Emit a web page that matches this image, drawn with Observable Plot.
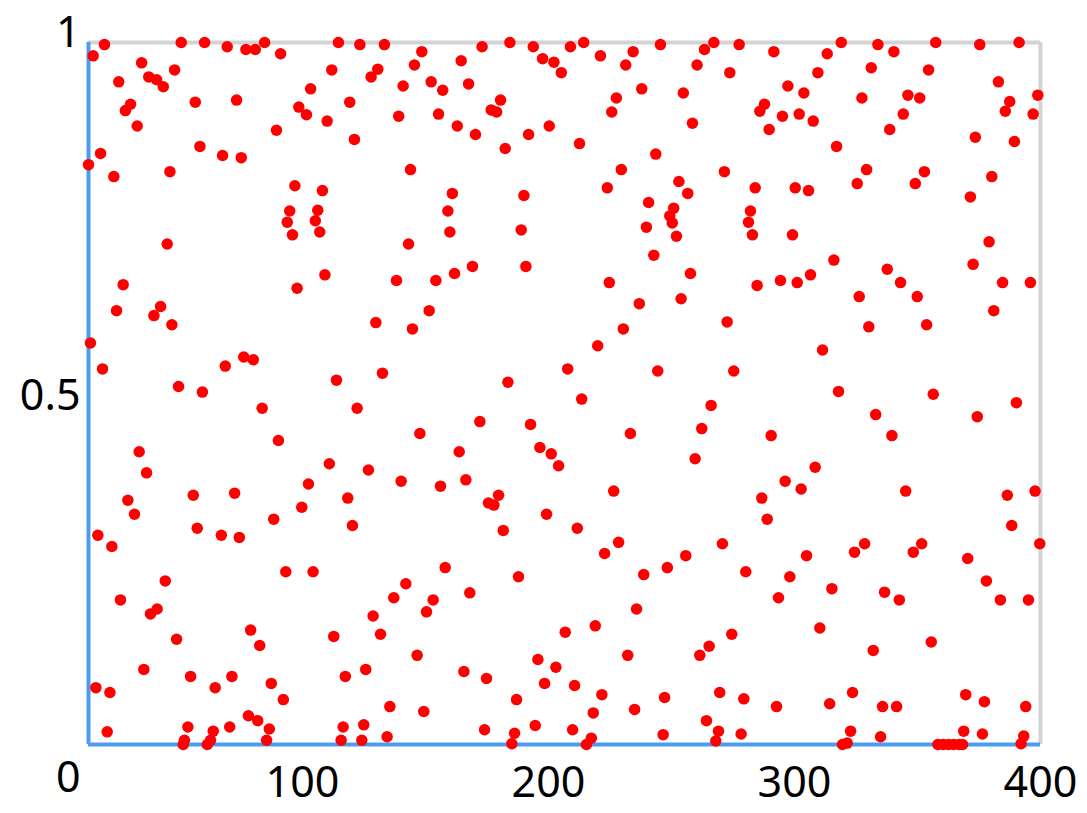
<!DOCTYPE html>
<html><head><meta charset="utf-8">
<script src="https://cdn.jsdelivr.net/npm/d3@7"></script>
<script src="https://cdn.jsdelivr.net/npm/@observablehq/plot@0.6"></script>
<style>html,body{margin:0;padding:0;background:#fff;} #chart svg{display:block;}</style>
</head><body><div id="chart"></div>
<script>
const xTicks = [100, 200, 300, 400];
const yTicks = [0, 0.5, 1];
const yTickLabels = ["0", "0.5", "1"];
const xStart = 13, xEnd = 400;
// [x, y] samples
const points = [
[19.5,0.997],[14.9,0.981],[50.7,1.000],[60.2,1.000],[69.4,0.994],[77.0,0.990],[80.8,0.990],[84.6,1.000],[91.1,0.984],[114.6,1.000],[123.3,0.997],[133.3,0.997],[34.6,0.971],[48.0,0.961],[25.3,0.944],[37.5,0.951],[40.7,0.947],[43.4,0.937],[111.9,0.961],[130.6,0.962],[127.9,0.951],[140.9,0.938],[103.3,0.934],[30.1,0.912],[28.0,0.903],[56.4,0.915],[73.2,0.918],[98.5,0.908],[101.6,0.897],[119.2,0.915],[110.0,0.888],[139.1,0.895],[32.8,0.881],[89.4,0.875],[121.1,0.862],[17.9,0.842],[13.0,0.826],[58.3,0.852],[67.5,0.839],[75.1,0.836],[23.3,0.809],[46.1,0.816],[96.9,0.796],[108.1,0.789],[94.8,0.760],[93.8,0.744],[95.9,0.726],[106.2,0.761],[105.2,0.746],[107.0,0.730],[45.0,0.713],
[148.5,0.987],[145.5,0.968],[173.0,0.994],[184.3,1.000],[193.8,0.994],[197.6,0.977],[202.2,0.972],[205.2,0.957],[208.9,0.994],[214.3,1.000],[221.1,0.981],[234.4,0.987],[231.4,0.968],[245.5,0.997],[263.4,0.990],[267.2,1.000],[260.4,0.968],[164.5,0.974],[152.3,0.944],[157.0,0.932],[167.5,0.941],[180.5,0.918],[176.7,0.904],[178.9,0.901],[155.3,0.898],[162.9,0.881],[170.3,0.869],[191.9,0.869],[200.3,0.881],[182.4,0.849],[212.6,0.856],[227.6,0.921],[225.7,0.901],[237.9,0.934],[254.8,0.928],[258.5,0.885],[243.6,0.841],[143.9,0.819],[229.6,0.819],[271.5,0.816],[223.9,0.793],[253.0,0.802],[256.6,0.785],[160.9,0.785],[190.0,0.782],[240.7,0.772],[250.9,0.764],[249.3,0.753],[250.3,0.743],[239.8,0.737],[252.0,0.724],[159.1,0.760],[159.9,0.730],[188.9,0.733],[143.1,0.713],[242.8,0.697],[169.1,0.681],[190.8,0.681],
[277.5,0.997],[291.6,0.987],[273.7,0.957],[313.3,0.984],[319.0,1.000],[333.9,0.997],[340.4,0.987],[357.4,1.000],[375.3,0.997],[391.3,1.000],[309.5,0.957],[331.2,0.964],[354.5,0.961],[297.3,0.938],[303.8,0.928],[287.8,0.912],[285.9,0.902],[295.1,0.895],[301.9,0.898],[307.6,0.888],[289.7,0.876],[327.4,0.921],[346.1,0.925],[350.9,0.921],[344.2,0.898],[338.7,0.876],[317.1,0.852],[382.9,0.944],[398.9,0.925],[387.5,0.916],[385.7,0.902],[397.0,0.898],[373.5,0.865],[389.4,0.859],[329.3,0.819],[325.5,0.799],[352.8,0.816],[349.1,0.799],[380.2,0.809],[371.5,0.780],[284.0,0.793],[300.3,0.793],[305.7,0.789],[282.1,0.760],[281.3,0.744],[282.9,0.726],[299.2,0.726],[379.1,0.716],[316.0,0.690],[337.7,0.677],[372.6,0.684],
[27.1,0.655],[24.4,0.618],[42.3,0.624],[39.6,0.611],[46.9,0.598],[13.8,0.572],[18.7,0.535],[97.8,0.650],[109.1,0.669],[138.2,0.661],[129.8,0.601],[68.6,0.539],[76.1,0.552],[80.0,0.548],[49.6,0.510],[59.3,0.502],[113.8,0.519],[132.5,0.529],[83.6,0.479],[122.2,0.479],[90.2,0.433],[33.6,0.417],[36.6,0.387],[110.9,0.400],[126.8,0.391],[140.1,0.375],[102.4,0.371],[29.0,0.348],[55.6,0.355],[72.4,0.358],[118.4,0.351],
[154.2,0.661],[161.8,0.671],[151.5,0.618],[144.7,0.592],[224.7,0.658],[257.7,0.671],[236.9,0.628],[253.9,0.635],[230.4,0.592],[220.0,0.568],[207.8,0.535],[244.4,0.532],[183.5,0.516],[213.5,0.492],[266.1,0.483],[262.3,0.450],[259.6,0.407],[233.3,0.443],[172.1,0.460],[192.7,0.456],[147.7,0.443],[163.7,0.417],[196.5,0.423],[201.1,0.414],[204.1,0.397],[156.1,0.368],[166.4,0.377],[179.7,0.355],[175.6,0.344],[177.8,0.341],[226.5,0.361],
[284.8,0.654],[294.3,0.661],[301.1,0.658],[306.5,0.669],[343.1,0.658],[349.9,0.638],[326.3,0.638],[384.6,0.658],[395.9,0.658],[381.0,0.618],[272.6,0.602],[330.2,0.595],[353.7,0.598],[311.4,0.562],[275.3,0.532],[317.9,0.503],[356.4,0.499],[333.0,0.470],[390.2,0.487],[374.3,0.467],[290.5,0.440],[339.6,0.440],[308.4,0.395],[296.2,0.375],[302.7,0.364],[286.7,0.351],[345.2,0.361],[386.5,0.355],[397.8,0.361],
[31.7,0.328],[16.8,0.298],[22.5,0.282],[57.2,0.308],[67.0,0.298],[74.3,0.295],[88.3,0.321],[99.7,0.338],[120.3,0.312],[93.2,0.246],[104.3,0.246],[44.2,0.233],[26.0,0.206],[40.9,0.193],[38.2,0.186],[137.1,0.209],[128.7,0.183],[131.7,0.157],[112.7,0.154],[78.9,0.163],[82.6,0.141],[48.8,0.150],[35.5,0.107],[54.5,0.097],[64.5,0.081],[71.3,0.097],[87.3,0.087],[92.2,0.064],[117.4,0.097],[125.7,0.107],[135.5,0.054],[16.0,0.081],[21.7,0.074],[20.6,0.018],[53.4,0.025],[52.0,0.006],[51.5,0.000],[63.7,0.019],[62.6,0.006],[61.3,0.000],[70.4,0.025],[78.0,0.041],[81.8,0.034],[86.5,0.022],[85.4,0.006],[116.5,0.025],[115.7,0.006],[124.9,0.028],[124.1,0.006],[134.4,0.011],
[199.2,0.328],[181.6,0.305],[211.7,0.308],[228.5,0.288],[222.8,0.272],[270.7,0.286],[255.8,0.269],[248.3,0.252],[238.7,0.242],[158.0,0.252],[187.8,0.239],[142.0,0.229],[168.0,0.216],[153.1,0.206],[150.4,0.189],[235.8,0.193],[219.0,0.169],[206.8,0.160],[146.6,0.127],[165.6,0.104],[174.8,0.094],[195.7,0.121],[203.0,0.110],[198.4,0.087],[210.6,0.084],[232.2,0.127],[261.5,0.127],[265.3,0.140],[187.0,0.064],[221.7,0.071],[218.2,0.045],[149.3,0.047],[174.0,0.021],[186.2,0.016],[185.1,0.001],[194.6,0.027],[209.8,0.021],[217.4,0.009],[215.4,0.000],[235.0,0.050],[247.2,0.067],[246.6,0.014],[269.6,0.074],[264.2,0.034],[269.1,0.019],[268.0,0.005],
[288.9,0.321],[388.3,0.312],[399.7,0.286],[324.4,0.274],[328.5,0.286],[348.3,0.274],[351.7,0.286],[304.9,0.269],[370.4,0.265],[280.2,0.246],[298.1,0.239],[315.2,0.222],[293.5,0.209],[336.6,0.217],[342.6,0.206],[378.0,0.233],[383.7,0.206],[395.1,0.206],[274.5,0.157],[310.3,0.166],[332.0,0.134],[355.6,0.146],[279.4,0.065],[292.7,0.054],[314.3,0.058],[323.6,0.074],[335.8,0.054],[341.5,0.054],[369.6,0.071],[377.2,0.061],[394.0,0.054],[278.3,0.015],[322.8,0.019],[321.4,0.002],[319.5,0.000],[335.0,0.011],[368.8,0.019],[376.4,0.015],[393.2,0.012],[392.1,0.001],[358.3,0.000],[360.4,0.000],[362.6,0.000],[364.7,0.000],[366.9,0.000],[368.3,0.000]
];

const gridGrey = "#d3d3d3";
const axisBlue = "#4c9df2";

const chart = Plot.plot({
  width: 1087,
  height: 813,
  marginTop: 42,
  marginBottom: 69,
  marginLeft: 88,
  marginRight: 47,
  x: {domain: [xStart, xEnd], axis: null},
  y: {domain: [0, 1], axis: null},
  style: {fontFamily: "'Noto Sans', sans-serif", fontSize: "43px", color: "#000", background: "#fff", overflow: "visible"},
  marks: [
    Plot.ruleY([1], {x1: xStart, x2: xEnd, stroke: gridGrey, strokeWidth: 4}),
    Plot.ruleX([xEnd], {y1: 0, y2: 1, stroke: gridGrey, strokeWidth: 4}),
    Plot.ruleX([xStart], {y1: 0, y2: 1, stroke: axisBlue, strokeWidth: 4}),
    Plot.ruleY([0], {x1: xStart, x2: xEnd, stroke: axisBlue, strokeWidth: 4}),
    Plot.dot(points, {x: d => d[0], y: d => d[1], r: 5.75, fill: "red", stroke: "none"}),
    Plot.text(xTicks, {x: d => d, y: () => 0, text: d => String(d), lineAnchor: "top", dy: 22, fill: "#000"}),
    Plot.text([yTicks[2]], {x: () => xStart, y: d => d, text: () => yTickLabels[2], textAnchor: "end", lineAnchor: "bottom", dx: -8, dy: 4, fill: "#000"}),
    Plot.text([yTicks[1]], {x: () => xStart, y: d => d, text: () => yTickLabels[1], textAnchor: "end", lineAnchor: "middle", dx: -8, dy: 3, fill: "#000"}),
    Plot.text([yTicks[0]], {x: () => xStart, y: d => d, text: () => yTickLabels[0], textAnchor: "end", lineAnchor: "top", dx: -8, dy: 17, fill: "#000"})
  ]
});
document.getElementById("chart").appendChild(chart);
</script>
</body></html>
